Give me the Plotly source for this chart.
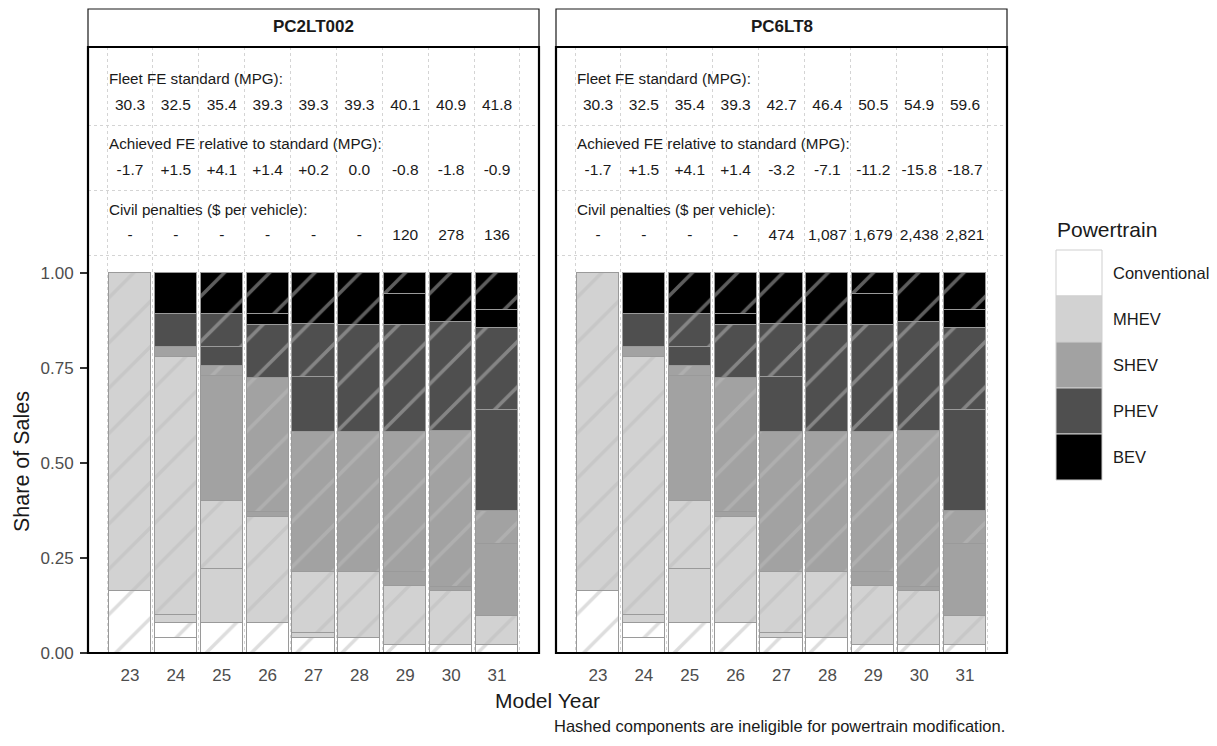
import plotly.graph_objects as go

# the page body keeps the browser's 8px margin, so the figure is drawn
# smaller and all pixel positions below are shifted by that amount
OFF = 8
W, H = 1217 - 2 * OFF, 746 - 2 * OFF
FONT = "Liberation Sans, Arial, sans-serif"

years = [23, 24, 25, 26, 27, 28, 29, 30, 31]
powertrains = ["Conventional", "MHEV", "SHEV", "PHEV", "BEV"]
fills = ["#ffffff", "#d2d2d2", "#a2a2a2", "#4f4f4f", "#000000"]

# share of sales: eligible (plain) and ineligible (hashed) part of each powertrain
conv_elig = [0, 0.040, 0, 0, 0, 0, 0, 0, 0]
conv_inelig = [0.164, 0.040, 0.078, 0.078, 0.040, 0.040, 0.021, 0.021, 0.021]
mhev_elig = [0, 0.020, 0.142, 0, 0.013, 0, 0, 0, 0]
mhev_inelig = [0.836, 0.678, 0.180, 0.280, 0.161, 0.173, 0.155, 0.142, 0.076]
shev_elig = [0, 0.028, 0.330, 0.013, 0, 0, 0.037, 0.012, 0.189]
shev_inelig = [0, 0, 0.026, 0.354, 0.368, 0.368, 0.368, 0.410, 0.088]
phev_elig = [0, 0.086, 0.050, 0, 0.144, 0, 0, 0, 0.266]
phev_inelig = [0, 0, 0.086, 0.139, 0.139, 0.283, 0.283, 0.285, 0.214]
bev_elig = [0, 0.108, 0, 0.028, 0, 0, 0.082, 0, 0.049]
bev_inelig = [0, 0, 0.108, 0.108, 0.136, 0.136, 0.054, 0.130, 0.097]

segments = [
    (conv_elig, conv_inelig),
    (mhev_elig, mhev_inelig),
    (shev_elig, shev_inelig),
    (phev_elig, phev_inelig),
    (bev_elig, bev_inelig),
]

panels = ["PC2LT002", "PC6LT8"]
fleet_std = {
    "PC2LT002": ["30.3", "32.5", "35.4", "39.3", "39.3", "39.3", "40.1", "40.9", "41.8"],
    "PC6LT8": ["30.3", "32.5", "35.4", "39.3", "42.7", "46.4", "50.5", "54.9", "59.6"],
}
achieved = {
    "PC2LT002": ["-1.7", "+1.5", "+4.1", "+1.4", "+0.2", "0.0", "-0.8", "-1.8", "-0.9"],
    "PC6LT8": ["-1.7", "+1.5", "+4.1", "+1.4", "-3.2", "-7.1", "-11.2", "-15.8", "-18.7"],
}
penalties = {
    "PC2LT002": ["-", "-", "-", "-", "-", "-", "120", "278", "136"],
    "PC6LT8": ["-", "-", "-", "-", "474", "1,087", "1,679", "2,438", "2,821"],
}
row_labels = ["Fleet FE standard (MPG):",
              "Achieved FE relative to standard (MPG):",
              "Civil penalties ($ per vehicle):"]


def px(p):
    return (p - OFF) / W


def py(p):
    return 1 - (p - OFF) / H


def note(x, y, text, size, **kw):
    opts = dict(xanchor="center", yanchor="middle")
    opts.update(kw)
    fig.add_annotation(x=px(x), y=py(y), xref="paper", yref="paper", text=text,
                       showarrow=False,
                       font=dict(family=FONT, size=size, color="#1a1a1a"), **opts)


# panel pixel extents (in screen pixels)
panel_x = [(88, 539), (556, 1007)]
top_px, bottom_px = 47, 653
y_top = (bottom_px - top_px) / 380.0

label_y = [1.513, 1.340, 1.168]
value_y = [1.440, 1.268, 1.097]
sep_y = [1.047, 1.218, 1.389]

fig = go.Figure()

for k, name in enumerate(panels):
    xa = "x" if k == 0 else "x2"
    ya = "y" if k == 0 else "y2"
    for i, (elig, inelig) in enumerate(segments):
        for part, hashed in ((elig, False), (inelig, True)):
            vals = [v if v > 0 else None for v in part]
            marker = dict(color=fills[i], line=dict(color="#9a9a9a", width=1))
            if hashed:
                marker["pattern"] = dict(shape="/", fgcolor="#bcbcbc",
                                         size=32, solidity=0.11)
            fig.add_trace(go.Bar(
                x=years, y=vals, xaxis=xa, yaxis=ya, width=0.92,
                marker=marker, name=powertrains[i], showlegend=False,
                hoverinfo="skip"
            ))
    for rows, yv in zip((fleet_std[name], achieved[name], penalties[name]), value_y):
        fig.add_trace(go.Scatter(
            x=years, y=[yv] * len(years), xaxis=xa, yaxis=ya, mode="text",
            text=rows, textfont=dict(family=FONT, size=15.5, color="#1a1a1a"),
            showlegend=False, hoverinfo="skip", cliponaxis=False
        ))
    for lab, yl in zip(row_labels, label_y):
        fig.add_annotation(x=22.5, y=yl, xref=xa, yref=ya, text=lab,
                           showarrow=False, xanchor="left", yanchor="middle",
                           font=dict(family=FONT, size=15.2, color="#1a1a1a"))

    # strip header
    x0, x1 = panel_x[k]
    fig.add_shape(type="rect", xref="paper", yref="paper",
                  x0=px(x0), x1=px(x1), y0=py(47), y1=py(9),
                  line=dict(color="#1a1a1a", width=1.2), fillcolor="white")
    note((x0 + x1) / 2, 27, "<b>%s</b>" % name, 17)
    # panel border
    fig.add_shape(type="rect", xref=xa + " domain", yref=ya + " domain",
                  x0=0, x1=1, y0=0, y1=1, layer="above",
                  line=dict(color="#000000", width=2.2))

axis_common = dict(
    range=[22.085, 31.915], tickvals=years, ticktext=[str(y) for y in years],
    showgrid=False, zeroline=False, ticks="", showline=False,
    tickfont=dict(family=FONT, size=17, color="#4d4d4d"),
    ticklabelstandoff=10,
    minor=dict(tickvals=[y + 0.5 for y in [22] + years], showgrid=True,
               gridcolor="#d4d4d4", griddash="dot", gridwidth=1),
    automargin=False,
)
yaxis_common = dict(
    range=[0, y_top], tickvals=[0, 0.25, 0.5, 0.75, 1.0],
    ticktext=["0.00", "0.25", "0.50", "0.75", "1.00"],
    showgrid=False, zeroline=False, showline=False,
    minor=dict(tickvals=sep_y, showgrid=True, gridcolor="#d4d4d4",
               griddash="dot", gridwidth=1),
    automargin=False,
)

fig.update_layout(
    width=W, height=H, barmode="stack", bargap=0,
    paper_bgcolor="white", plot_bgcolor="white",
    margin=dict(l=0, r=0, t=0, b=0),
    showlegend=False,
    font=dict(family=FONT, color="#1a1a1a"),
    xaxis=dict(domain=[px(88), px(539)], anchor="y", **axis_common),
    xaxis2=dict(domain=[px(556), px(1007)], anchor="y2", **axis_common),
    yaxis=dict(domain=[py(bottom_px), py(top_px)], anchor="x",
               ticks="outside", ticklen=7, tickwidth=2, tickcolor="#333333",
               tickfont=dict(family=FONT, size=17, color="#4d4d4d"),
               ticklabelstandoff=3,
               **yaxis_common),
    yaxis2=dict(domain=[py(bottom_px), py(top_px)], anchor="x2",
                ticks="", showticklabels=False, **yaxis_common),
)

# axis titles and caption
note(547, 700, "Model Year", 21)
note(22, 462, "Share of Sales", 21.5, textangle=-90)
note(1007, 726, "Hashed components are ineligible for powertrain modification.",
     16.5, xanchor="right")

# legend drawn by hand to get the large ggplot-style keys
note(1055, 230, "Powertrain", 21, xanchor="left")
for i, (lab, col) in enumerate(zip(powertrains, fills)):
    top = 250 + 46 * i
    fig.add_shape(type="rect", xref="paper", yref="paper",
                  x0=px(1056), x1=px(1102), y0=py(top + 46), y1=py(top),
                  fillcolor=col, line=dict(color="#cfcfcf", width=1))
    note(1111, top + 23, lab, 16.5, xanchor="left")

fig.write_html("out.html")
